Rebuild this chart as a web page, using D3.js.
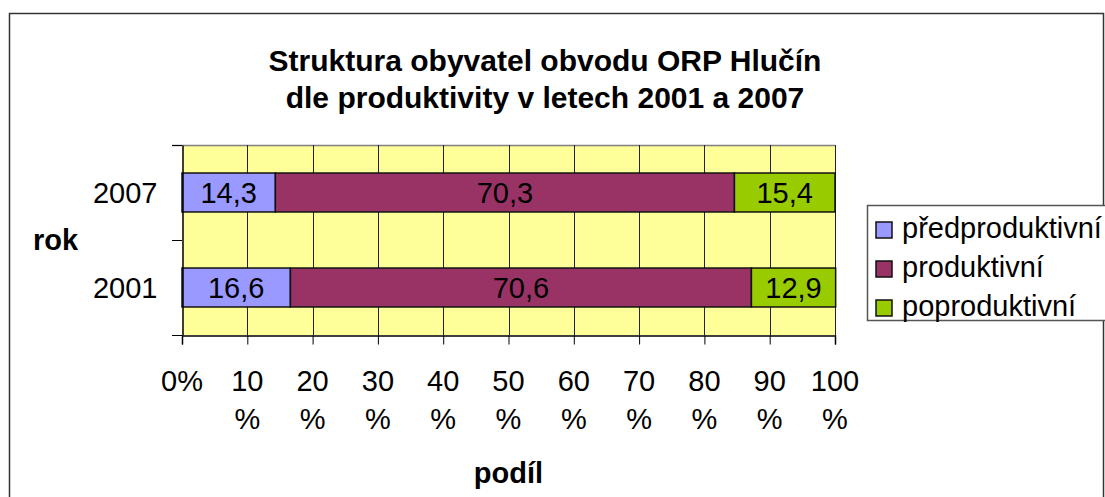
<!DOCTYPE html>
<html>
<head>
<meta charset="utf-8">
<script src="https://cdn.jsdelivr.net/npm/d3@7"></script>
<style>
  body { margin: 0; background: #fff; }
  svg { display: block; font-family: 'Liberation Sans', Arial, sans-serif; }
</style>
</head>
<body>
<div id="chart"></div>
<script>
const years = ['2007', '2001']
const seriesNames = ['předproduktivní', 'produktivní', 'poproduktivní']
const predproduktivni = [14.3, 16.6]
const produktivni = [70.3, 70.6]
const poproduktivni = [15.4, 12.9]
const xTicks = [0, 10, 20, 30, 40, 50, 60, 70, 80, 90, 100]
const colors = ['#9999ff', '#993366', '#99cc00']

const width = 1105
const height = 497

const svg = d3
  .select('#chart')
  .append('svg')
  .attr('width', width)
  .attr('height', height)

// outer chart frame
svg
  .append('rect')
  .attr('x', 9.5)
  .attr('y', 13.5)
  .attr('width', 1094)
  .attr('height', 500)
  .attr('fill', 'none')
  .attr('stroke', '#333')
  .attr('stroke-width', 1.5)

const plot = { left: 182, right: 835, top: 145, bottom: 335 }

const xPositionScale = d3
  .scaleLinear()
  .domain([0, 100])
  .range([plot.left, plot.right])

const yPositionScale = d3
  .scaleBand()
  .domain(years)
  .range([plot.top, plot.bottom])
  .paddingInner(0.59)
  .paddingOuter(0.295)

const colorScale = d3.scaleOrdinal().domain(seriesNames).range(colors)

// rows for the stack
const rows = years.map((y, i) => ({
  year: y,
  'předproduktivní': predproduktivni[i],
  'produktivní': produktivni[i],
  'poproduktivní': poproduktivni[i]
}))
const stacked = d3.stack().keys(seriesNames)(rows)

// background
svg
  .append('rect')
  .attr('x', plot.left)
  .attr('y', plot.top)
  .attr('width', plot.right - plot.left)
  .attr('height', plot.bottom - plot.top)
  .attr('fill', '#ffff99')

// top border
svg
  .append('line')
  .attr('x1', plot.left - 10)
  .attr('x2', plot.right)
  .attr('y1', plot.top + 0.5)
  .attr('y2', plot.top + 0.5)
  .attr('stroke', '#808080')
  .attr('stroke-width', 1.5)

// VERTICAL GRID LINES
svg
  .selectAll('.grid')
  .data(xTicks.slice(1))
  .enter()
  .append('line')
  .attr('class', 'grid')
  .attr('x1', d => Math.round(xPositionScale(d)) + 0.5)
  .attr('x2', d => Math.round(xPositionScale(d)) + 0.5)
  .attr('y1', plot.top)
  .attr('y2', plot.bottom)
  .attr('stroke', '#222')
  .attr('stroke-width', 1)

// BARS
const groups = svg
  .selectAll('.series')
  .data(stacked)
  .enter()
  .append('g')
  .attr('class', 'series')
  .attr('fill', d => colorScale(d.key))

groups
  .selectAll('rect')
  .data(d => d)
  .enter()
  .append('rect')
  .attr('x', d => xPositionScale(d[0]))
  .attr('y', d => yPositionScale(d.data.year))
  .attr('width', d => xPositionScale(d[1]) - xPositionScale(d[0]))
  .attr('height', yPositionScale.bandwidth())
  .attr('stroke', '#111')
  .attr('stroke-width', 1.5)

groups
  .selectAll('text')
  .data(d => d)
  .enter()
  .append('text')
  .attr('x', d => (xPositionScale(d[0]) + xPositionScale(d[1])) / 2)
  .attr('y', d => yPositionScale(d.data.year) + yPositionScale.bandwidth() / 2 + 10)
  .attr('text-anchor', 'middle')
  .attr('font-size', 29)
  .attr('fill', '#000')
  .text(d => (d[1] - d[0]).toFixed(1).replace('.', ','))

// Y AXIS
const yAxis = d3.axisLeft(yPositionScale).tickSize(0).tickPadding(25)
svg
  .append('g')
  .attr('class', 'axis y-axis')
  .attr('transform', 'translate(' + (plot.left + 0.5) + ',0)')
  .call(yAxis)
  .call(g => g.selectAll('text').attr('font-size', 29).attr('fill', '#000').attr('dy', '0.35em'))
  .call(g => g.select('.domain').attr('stroke', '#000').attr('stroke-width', 1.5))

// category boundary ticks
const boundaries = [plot.top, (plot.top + plot.bottom) / 2, plot.bottom]
svg
  .selectAll('.ytick')
  .data(boundaries)
  .enter()
  .append('line')
  .attr('class', 'ytick')
  .attr('x1', plot.left - 10)
  .attr('x2', plot.left)
  .attr('y1', d => d + 0.5)
  .attr('y2', d => d + 0.5)
  .attr('stroke', '#000')

// X AXIS
const xAxis = d3.axisBottom(xPositionScale).tickValues(xTicks).tickSize(9).tickFormat('')
svg
  .append('g')
  .attr('class', 'axis x-axis')
  .attr('transform', 'translate(0,' + (plot.bottom + 0.5) + ')')
  .call(xAxis)
  .call(g => g.select('.domain').attr('stroke', '#000').attr('stroke-width', 1.5))
  .call(g => g.selectAll('.tick line').attr('stroke', '#000'))

const xLabels = svg
  .selectAll('.xlabel')
  .data(xTicks)
  .enter()
  .append('text')
  .attr('class', 'xlabel')
  .attr('text-anchor', 'middle')
  .attr('font-size', 29)
  .attr('fill', '#000')

xLabels
  .append('tspan')
  .attr('x', d => xPositionScale(d))
  .attr('y', 391)
  .text(d => (d === 0 ? '0%' : d))

xLabels
  .filter(d => d !== 0)
  .append('tspan')
  .attr('x', d => xPositionScale(d))
  .attr('y', 429)
  .text('%')

// TITLES
svg
  .append('text')
  .attr('x', 545)
  .attr('y', 71)
  .attr('text-anchor', 'middle')
  .attr('font-size', 30)
  .attr('font-weight', 'bold')
  .text('Struktura obyvatel obvodu ORP Hlučín')

svg
  .append('text')
  .attr('x', 545)
  .attr('y', 108)
  .attr('text-anchor', 'middle')
  .attr('font-size', 30)
  .attr('font-weight', 'bold')
  .text('dle produktivity v letech 2001 a 2007')

svg
  .append('text')
  .attr('x', 33)
  .attr('y', 250)
  .attr('font-size', 29)
  .attr('font-weight', 'bold')
  .text('rok')

svg
  .append('text')
  .attr('x', (plot.left + plot.right) / 2)
  .attr('y', 483)
  .attr('text-anchor', 'middle')
  .attr('font-size', 29)
  .attr('font-weight', 'bold')
  .text('podíl')

// LEGEND
svg
  .append('rect')
  .attr('x', 867.5)
  .attr('y', 205.5)
  .attr('width', 250)
  .attr('height', 115)
  .attr('fill', '#fff')
  .attr('stroke', '#555')
  .attr('stroke-width', 1.5)

const legend = svg
  .selectAll('.legend')
  .data(seriesNames)
  .enter()
  .append('g')
  .attr('class', 'legend')
  .attr('transform', (d, i) => 'translate(876,' + (222 + i * 39) + ')')

legend
  .append('rect')
  .attr('width', 16)
  .attr('height', 16)
  .attr('fill', d => colorScale(d))
  .attr('stroke', '#111')
  .attr('stroke-width', 1.5)

legend
  .append('text')
  .attr('x', 26)
  .attr('y', 16)
  .attr('font-size', 29)
  .attr('fill', '#000')
  .text(d => d)
</script>
</body>
</html>
